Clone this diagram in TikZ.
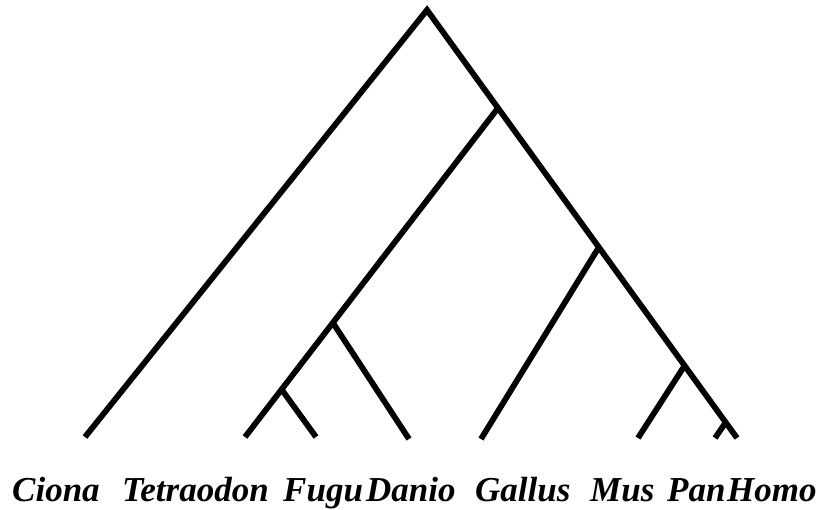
\documentclass[tikz,border=0pt]{standalone}
\usepackage{fontspec}
\setmainfont{Liberation Serif}
\begin{document}
\begin{tikzpicture}[x=1pt,y=-1pt,
  branch/.style={line width=5.8pt,line join=miter,line cap=butt,black},
  taxon/.style={anchor=base west,inner sep=0pt,font=\fontsize{35}{35}\selectfont\bfseries\itshape}]
\useasboundingbox (0,0) rectangle (823,510);
% internal nodes
\coordinate (root) at (427,10);
\coordinate (nA) at (498,108);
\coordinate (nG) at (599,247);
\coordinate (nM) at (685,365);
\coordinate (nP) at (726,422);
\coordinate (nD) at (333,323);
\coordinate (nF) at (282,390);
% leaf tips
\coordinate (tCiona) at (85,437);
\coordinate (tTetra) at (245,437);
\coordinate (tFugu) at (316,437);
\coordinate (tDanio) at (409,439);
\coordinate (tGallus) at (481,439);
\coordinate (tMus) at (638,438);
\coordinate (tPan) at (715,438);
\coordinate (tHomo) at (737,438);
% branches
\draw[branch] (tCiona) -- (root) -- (tHomo);
\draw[branch] (nA) -- (tTetra);
\draw[branch] (nD) -- (tDanio);
\draw[branch] (nF) -- (tFugu);
\draw[branch] (nG) -- (tGallus);
\draw[branch] (nM) -- (tMus);
\draw[branch] (nP) -- (tPan);
% labels
\node[taxon] (lCiona) at (12,502) {Ciona};
\node[taxon] (lTetra) at (122,502) {Tetraodon};
\node[taxon] (lFugu) at (283,502) {Fugu};
\node[taxon] (lDanio) at (366,502) {Danio};
\node[taxon] (lGallus) at (475,502) {Gallus};
\node[taxon] (lMus) at (590,502) {Mus};
\node[taxon] (lPan) at (667,502) {Pan};
\node[taxon] (lHomo) at (727,502) {Homo};
\end{tikzpicture}
\end{document}
